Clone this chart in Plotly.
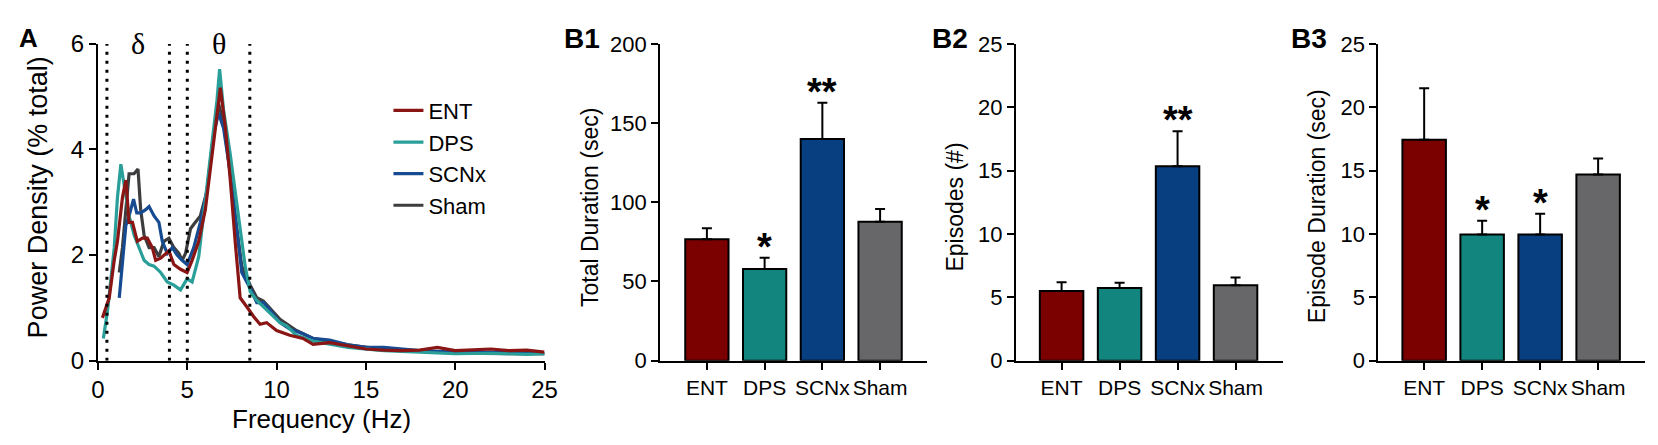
import plotly.graph_objects as go

W, H = 1658, 445

# ---- panel A: power spectra ----
ent_f = [0.25, 0.63, 0.91, 1.09, 1.37, 1.56, 1.74, 1.93, 2.2, 2.49, 2.76, 3.04, 3.23, 3.51, 3.97, 4.25,
         4.62, 4.99, 5.27, 5.64, 6.01, 6.38, 6.66, 6.85, 7.12, 7.4, 7.68, 7.96, 8.33, 8.7, 9.07, 9.44,
         10.0, 10.74, 11.48, 12.04, 12.97, 13.9, 15, 16, 17, 18, 19, 20, 21, 22, 23, 24, 25]
ent_p = [0.81, 1.19, 1.9, 2.26, 3.09, 3.42, 2.62, 2.62, 2.26, 2.32, 2.32, 2.14, 1.9, 1.94, 2.08, 1.82,
         1.73, 1.67, 1.9, 2.26, 2.86, 3.92, 4.75, 5.17, 4.45, 3.45, 2.26, 1.19, 1.02, 0.84, 0.69, 0.72,
         0.57, 0.48, 0.42, 0.31, 0.34, 0.28, 0.22, 0.2, 0.19, 0.2, 0.25, 0.19, 0.2, 0.22, 0.19, 0.2, 0.16]

dps_f = [0.3, 0.54, 0.91, 1.09, 1.28, 1.47, 1.74, 2.02, 2.3, 2.58, 2.86, 3.14, 3.51, 3.88, 4.25, 4.62,
         4.99, 5.27, 5.64, 6.01, 6.38, 6.66, 6.81, 7.03, 7.4, 7.68, 7.96, 8.24, 8.52, 8.89, 9.44, 10.19,
         10.56, 11.11, 12.04, 12.97, 14, 16, 18, 20, 22, 24, 25]
dps_p = [0.42, 0.96, 2.14, 3.09, 3.72, 3.33, 2.74, 2.38, 2.14, 1.9, 1.82, 1.79, 1.67, 1.49, 1.43, 1.34,
         1.55, 1.49, 1.97, 3.03, 4.16, 4.93, 5.52, 4.75, 3.92, 3.21, 2.56, 1.79, 1.31, 1.14, 0.96, 0.72,
         0.66, 0.48, 0.37, 0.31, 0.25, 0.19, 0.16, 0.13, 0.14, 0.12, 0.13]

scnx_f = [1.19, 1.37, 1.56, 1.74, 1.99, 2.17, 2.39, 2.67, 2.86, 3.14, 3.41, 3.6, 3.88, 4.16, 4.43, 4.71,
          4.99, 5.36, 5.73, 6.1, 6.47, 6.75, 7.03, 7.4, 7.68, 8.05, 8.52, 8.89, 9.26, 9.63, 10.19, 10.74,
          11.48, 12.04, 12.97, 14, 15, 16, 18, 20, 22, 25]
scnx_p = [1.19, 1.9, 2.56, 2.74, 3.06, 2.8, 2.8, 2.86, 2.92, 2.74, 2.62, 2.26, 2.03, 2.14, 2.0, 1.9,
          1.82, 2.14, 2.62, 3.21, 4.28, 4.69, 4.4, 3.57, 2.74, 1.67, 1.37, 1.1, 1.1, 0.96, 0.72, 0.6,
          0.51, 0.42, 0.39, 0.3, 0.25, 0.25, 0.19, 0.16, 0.16, 0.13]

sham_f = [1.19, 1.37, 1.56, 1.74, 2.02, 2.24, 2.39, 2.58, 2.86, 3.14, 3.41, 3.69, 3.97, 4.25, 4.53, 4.71,
          4.9, 5.18, 5.45, 5.73, 6.1, 6.47, 6.75, 7.03, 7.4, 7.68, 8.05, 8.52, 8.89, 9.26, 9.63, 10.19,
          11.11, 12.04, 12.97, 14, 16, 18, 20, 22, 25]
sham_p = [1.67, 2.14, 2.86, 3.54, 3.54, 3.63, 2.86, 2.38, 2.14, 2.14, 1.97, 2.26, 2.32, 2.14, 2.03, 1.9,
          2.03, 2.5, 2.62, 2.74, 3.21, 4.28, 4.87, 4.51, 3.57, 2.74, 1.79, 1.43, 1.19, 1.13, 0.99, 0.78,
          0.57, 0.42, 0.36, 0.3, 0.21, 0.19, 0.14, 0.14, 0.13]

band_edges = [0.5, 4, 5, 8.5]
band_names = ["δ", "θ"]
band_centers = [2.25, 6.75]

# ---- panels B1-B3: bars ----
groups = ["ENT", "DPS", "SCNx", "Sham"]
total_dur = [76.6, 57.8, 140.0, 87.7]
total_dur_sem = [7.0, 7.1, 22.8, 8.1]
total_dur_stars = ["", "*", "**", ""]
episodes = [5.5, 5.74, 15.35, 5.94]
episodes_sem = [0.69, 0.4, 2.75, 0.62]
episodes_stars = ["", "", "**", ""]
ep_dur = [17.44, 9.95, 9.95, 14.69]
ep_dur_sem = [4.05, 1.1, 1.64, 1.27]
ep_dur_stars = ["", "*", "*", ""]

line_colors = {"ENT": "#8a1515", "DPS": "#2a9f9a", "SCNx": "#164b92", "Sham": "#3d3d3f"}
bar_colors = ["#7b0000", "#13857f", "#083f80", "#676769"]

SANS = "Liberation Sans, Arial"

fig = go.Figure()

spectra = [("Sham", sham_f, sham_p, 4), ("SCNx", scnx_f, scnx_p, 3),
           ("DPS", dps_f, dps_p, 2), ("ENT", ent_f, ent_p, 1)]
for name, f, p, rank in spectra:
    fig.add_trace(go.Scatter(x=f, y=p, mode="lines", name=name, legendrank=rank,
                             line=dict(color=line_colors[name], width=3.2),
                             xaxis="x", yaxis="y"))

panels = [(total_dur, total_dur_sem, total_dur_stars, "2"),
          (episodes, episodes_sem, episodes_stars, "3"),
          (ep_dur, ep_dur_sem, ep_dur_stars, "4")]
for vals, sem, stars, ax in panels:
    fig.add_trace(go.Bar(x=groups, y=vals, width=0.75, showlegend=False,
                         marker=dict(color=bar_colors, line=dict(color="black", width=2)),
                         error_y=dict(type="data", symmetric=False, array=sem,
                                      arrayminus=[0] * len(sem), color="black",
                                      thickness=2, width=5),
                         xaxis="x" + ax, yaxis="y" + ax))
    for g, v, s, st in zip(groups, vals, sem, stars):
        if st:
            fig.add_annotation(x=g, y=v + s, text="<b>" + st + "</b>", showarrow=False,
                               xref="x" + ax, yref="y" + ax, yanchor="bottom", yshift=-12,
                               font=dict(family=SANS, size=38, color="black"))

# dotted band boundaries
for e in band_edges:
    fig.add_shape(type="line", xref="x", yref="y", x0=e, x1=e, y0=0, y1=6,
                  line=dict(color="black", width=3, dash="3px,6px"))
for nm, c in zip(band_names, band_centers):
    fig.add_annotation(x=c, y=6, xref="x", yref="y", text=nm, showarrow=False, yanchor="middle",
                       font=dict(family="Liberation Serif, Times New Roman", size=30, color="black"))


def px_x(v):
    return v / W


def px_y(v):
    return (H - v) / H


axis_common = dict(showline=True, linecolor="black", linewidth=2, ticks="outside", ticklen=7,
                   tickwidth=2, tickcolor="black", showgrid=False, zeroline=False, tickangle=0)
y_dom = [px_y(360.5), px_y(23.3)]
num_font = dict(family=SANS, size=22, color="black")
cat_font = dict(family=SANS, size=21, color="black")

fig.update_layout(
    width=W, height=H, margin=dict(l=0, r=0, t=0, b=0),
    paper_bgcolor="white", plot_bgcolor="white",
    xaxis=dict(domain=[px_x(84), px_x(536)], range=[0, 25], tickvals=[0, 5, 10, 15, 20, 25],
               anchor="y", tickfont=dict(family=SANS, size=24, color="black"), **axis_common),
    yaxis=dict(domain=y_dom, range=[0, 6], tickvals=[0, 2, 4, 6], anchor="x",
               tickfont=dict(family=SANS, size=24, color="black"), **axis_common),
    xaxis2=dict(domain=[px_x(653), px_x(923)], range=[-0.81, 3.81], anchor="y2",
                tickfont=cat_font, **axis_common),
    yaxis2=dict(domain=y_dom, range=[0, 200], tickvals=[0, 50, 100, 150, 200], anchor="x2",
                tickfont=num_font, **axis_common),
    xaxis3=dict(domain=[px_x(1013), px_x(1283)], range=[-0.79, 3.81], anchor="y3",
                tickfont=cat_font, **axis_common),
    yaxis3=dict(domain=y_dom, range=[0, 25], tickvals=[0, 5, 10, 15, 20, 25], anchor="x3",
                tickfont=num_font, **axis_common),
    xaxis4=dict(domain=[px_x(1380), px_x(1650)], range=[-0.79, 3.81], anchor="y4",
                tickfont=cat_font, **axis_common),
    yaxis4=dict(domain=y_dom, range=[0, 25], tickvals=[0, 5, 10, 15, 20, 25], anchor="x4",
                tickfont=num_font, **axis_common),
    legend=dict(x=px_x(378), y=px_y(72), xanchor="left", yanchor="top",
                font=dict(family=SANS, size=22, color="black"), bgcolor="rgba(0,0,0,0)",
                tracegroupgap=0),
    showlegend=True,
)

# axis titles and panel letters
texts = [
    ("Frequency (Hz)", 310, 423, 0, 26, False),
    ("Power Density (% total)", 23, 187, -90, 27, False),
    ("Total Duration (sec)", 582, 197, -90, 23, False),
    ("Episodes (#)", 952, 197, -90, 23, False),
    ("Episode Duration (sec)", 1318, 196, -90, 23, False),
    ("A", 14, 17, 0, 26, True),
    ("B1", 574, 18, 0, 28, True),
    ("B2", 946, 18, 0, 28, True),
    ("B3", 1310, 18, 0, 28, True),
]
for t, x, y, ang, size, bold in texts:
    fig.add_annotation(x=px_x(x), y=px_y(y), xref="paper", yref="paper",
                       text=f"<b>{t}</b>" if bold else t,
                       showarrow=False, textangle=ang, xanchor="center", yanchor="middle",
                       font=dict(family=SANS, size=size, color="black"))

fig.write_html("out.html")
